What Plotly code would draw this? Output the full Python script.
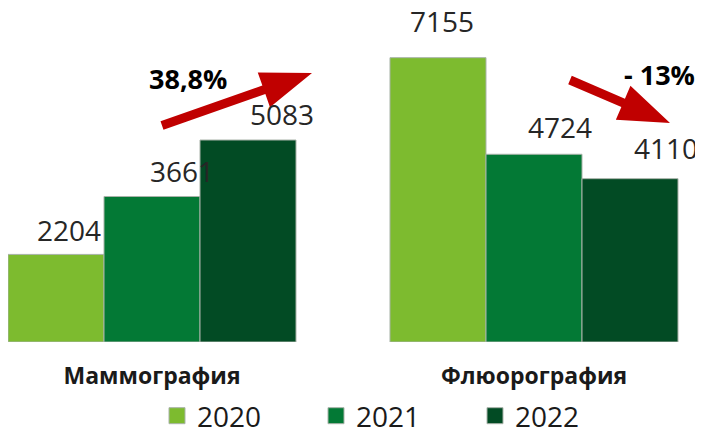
import plotly.graph_objects as go

# data
categories = ["Маммография", "Флюорография"]
years = ["2020", "2021", "2022"]
values_2020 = [2204, 7155]
values_2021 = [3661, 4724]
values_2022 = [5083, 4110]
changes = ["38,8%", "- 13%"]

COLORS = ["#7dbb2f", "#037935", "#024b24"]
FONT = "Open Sans, Arial, sans-serif"
OFF = 8                      # page body margin
W, H = 703 - OFF, 428 - OFF
MB = 86
PH = H - MB
BARGAP = 0.246
BW = (1 - BARGAP) / 3

# label nudges (px) to mimic original placement
XSHIFT = [[13, 30, 34], [4, 26, 36]]
YSHIFT = [[3, 5, 5], [16, 6, 10]]

# screen pixel -> paper coords
def px(x): return (x - OFF) / W
def py(y): return (PH - (y - OFF)) / PH

def arrow_path(tail, tip, shaft=9, head_len=51, head_w=37):
    import math
    (x0, y0), (x1, y1) = tail, tip
    L = math.hypot(x1 - x0, y1 - y0)
    ux, uy = (x1 - x0) / L, (y1 - y0) / L
    nx, ny = -uy, ux
    bx, by = x1 - ux * head_len, y1 - uy * head_len
    pts = [(x0 + nx * shaft / 2, y0 + ny * shaft / 2),
           (bx + nx * shaft / 2, by + ny * shaft / 2),
           (bx + nx * head_w / 2, by + ny * head_w / 2),
           (x1, y1),
           (bx - nx * head_w / 2, by - ny * head_w / 2),
           (bx - nx * shaft / 2, by - ny * shaft / 2),
           (x0 - nx * shaft / 2, y0 - ny * shaft / 2)]
    return "M" + " L".join(f"{px(a):.5f},{py(b):.5f}" for a, b in pts) + " Z"

series = [values_2020, values_2021, values_2022]
fig = go.Figure()
for j, (yr, vals) in enumerate(zip(years, series)):
    fig.add_trace(go.Bar(x=categories, y=vals, name=yr, showlegend=False,
                         marker=dict(color=COLORS[j], line=dict(color="#a9b3a9", width=1))))
    fig.add_trace(go.Scatter(x=[None], y=[None], mode="markers", name=yr,
                             marker=dict(symbol="square", size=20, color=COLORS[j],
                                         line=dict(color="#a9b3a9", width=1))))
    for i, v in enumerate(vals):
        fig.add_annotation(x=i + (j - 1) * BW, y=v, text=str(v), showarrow=False,
                           xanchor="center", yanchor="bottom",
                           xshift=XSHIFT[i][j], yshift=YSHIFT[i][j],
                           font=dict(size=28, color="#262626"))

# trend arrows
fig.add_shape(type="path", xref="paper", yref="paper", path=arrow_path((162, 125.5), (312, 73)),
              fillcolor="#c00000", line=dict(width=0))
fig.add_shape(type="path", xref="paper", yref="paper", path=arrow_path((570, 80), (670, 123)),
              fillcolor="#c00000", line=dict(width=0))
fig.add_annotation(xref="paper", yref="paper", x=px(188), y=py(79), text=f"<b>{changes[0]}</b>",
                   showarrow=False, xanchor="center", yanchor="middle",
                   font=dict(size=27, color="#000"))
fig.add_annotation(xref="paper", yref="paper", x=px(659), y=py(74), text=f"<b>{changes[1]}</b>",
                   showarrow=False, xanchor="center", yanchor="middle",
                   font=dict(size=27, color="#000"))

fig.update_layout(
    width=W, height=H, barmode="group", bargap=BARGAP, bargroupgap=0,
    margin=dict(l=0, r=0, t=0, b=MB, autoexpand=False), paper_bgcolor="white", plot_bgcolor="white",
    font=dict(family=FONT, color="#1a1a1a"),
    showlegend=True,
    legend=dict(orientation="h", x=px(157), y=py(416), xanchor="left", yanchor="middle",
                entrywidth=114, font=dict(size=28, color="#1a1a1a"), bgcolor="rgba(0,0,0,0)"),
)
fig.update_xaxes(range=[-144 / 382, (W - 144) / 382], showgrid=False, zeroline=False, showline=False,
                 ticks="", tickvals=[0, 1], ticktext=[f"<b>{c}</b>" for c in categories],
                 tickfont=dict(size=23, color="#1a1a1a"), ticklabelstandoff=18)
fig.update_yaxes(range=[0, PH / 0.03974], visible=False)
fig.write_html("out.html")
